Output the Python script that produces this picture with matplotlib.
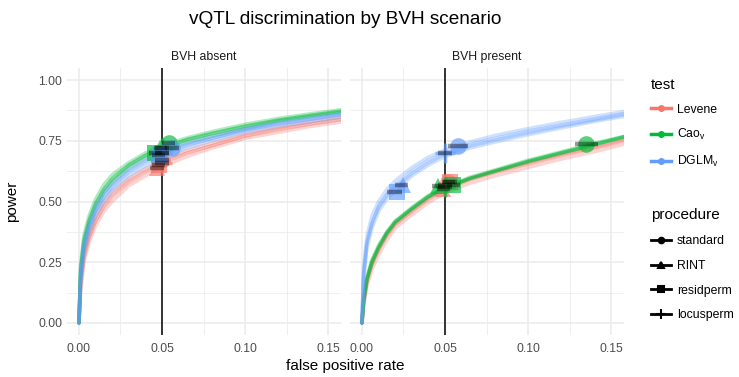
import matplotlib
matplotlib.use("Agg")
import matplotlib.pyplot as plt
from matplotlib.lines import Line2D

plt.rcParams['font.family'] = ['Liberation Sans', 'DejaVu Sans']
plt.rcParams['mathtext.default'] = 'regular'

# ---- data ----
panels = ['BVH absent', 'BVH present']
tests = ['Levene', 'Cao', 'DGLM']
test_labels = ['Levene', 'Cao$_v$', 'DGLM$_v$']
procedures = ['standard', 'RINT', 'residperm', 'locusperm']
colors = ['#F8766D', '#00BA38', '#619CFF']
shapes = ['o', '^', 's', '+']

fpr_grid = [0, 0.001, 0.003, 0.006, 0.01, 0.015, 0.02, 0.03, 0.04, 0.05,
            0.065, 0.08, 0.10, 0.12, 0.14, 0.16]

# power curves, one row per procedure (standard, RINT, residperm, locusperm)
absent_levene = [
    [0, 0.15, 0.27, 0.35, 0.42, 0.48, 0.52, 0.58, 0.62, 0.66, 0.70, 0.73, 0.77, 0.795, 0.82, 0.84],
    [0, 0.13, 0.25, 0.33, 0.40, 0.46, 0.50, 0.565, 0.605, 0.645, 0.685, 0.72, 0.76, 0.785, 0.81, 0.83],
    [0, 0.17, 0.29, 0.37, 0.44, 0.50, 0.54, 0.595, 0.635, 0.67, 0.71, 0.74, 0.78, 0.805, 0.83, 0.85],
    [0, 0.15, 0.27, 0.35, 0.42, 0.48, 0.525, 0.585, 0.625, 0.66, 0.70, 0.73, 0.77, 0.80, 0.82, 0.84],
]
absent_cao = [
    [0, 0.22, 0.34, 0.42, 0.49, 0.55, 0.59, 0.65, 0.69, 0.72, 0.755, 0.78, 0.81, 0.835, 0.855, 0.875],
    [0, 0.20, 0.32, 0.40, 0.47, 0.535, 0.58, 0.64, 0.68, 0.71, 0.745, 0.77, 0.80, 0.83, 0.85, 0.868],
    [0, 0.24, 0.36, 0.44, 0.51, 0.57, 0.61, 0.66, 0.70, 0.73, 0.762, 0.788, 0.818, 0.842, 0.862, 0.88],
    [0, 0.22, 0.34, 0.42, 0.49, 0.55, 0.595, 0.65, 0.69, 0.72, 0.755, 0.78, 0.81, 0.835, 0.855, 0.873],
]
absent_dglm = [
    [0, 0.19, 0.31, 0.39, 0.46, 0.52, 0.56, 0.62, 0.66, 0.69, 0.73, 0.76, 0.795, 0.82, 0.84, 0.86],
    [0, 0.17, 0.29, 0.37, 0.44, 0.50, 0.545, 0.605, 0.645, 0.68, 0.72, 0.75, 0.785, 0.81, 0.83, 0.85],
    [0, 0.21, 0.33, 0.41, 0.48, 0.54, 0.575, 0.635, 0.675, 0.705, 0.74, 0.768, 0.80, 0.825, 0.845, 0.865],
    [0, 0.19, 0.31, 0.39, 0.46, 0.52, 0.565, 0.625, 0.665, 0.695, 0.735, 0.76, 0.795, 0.82, 0.84, 0.86],
]
present_levene = [
    [0, 0.08, 0.17, 0.24, 0.30, 0.36, 0.405, 0.46, 0.51, 0.55, 0.59, 0.62, 0.655, 0.69, 0.72, 0.755],
    [0, 0.07, 0.15, 0.22, 0.28, 0.34, 0.39, 0.445, 0.495, 0.535, 0.575, 0.605, 0.64, 0.675, 0.705, 0.74],
    [0, 0.09, 0.18, 0.25, 0.31, 0.37, 0.41, 0.465, 0.515, 0.555, 0.595, 0.625, 0.66, 0.695, 0.725, 0.76],
    [0, 0.08, 0.17, 0.24, 0.30, 0.36, 0.405, 0.46, 0.51, 0.55, 0.59, 0.62, 0.655, 0.69, 0.72, 0.755],
]
present_cao = [
    [0, 0.09, 0.18, 0.25, 0.31, 0.37, 0.415, 0.47, 0.52, 0.555, 0.595, 0.625, 0.665, 0.70, 0.735, 0.77],
    [0, 0.09, 0.18, 0.25, 0.31, 0.37, 0.415, 0.47, 0.52, 0.555, 0.595, 0.625, 0.665, 0.70, 0.735, 0.77],
    [0, 0.10, 0.19, 0.26, 0.32, 0.375, 0.42, 0.475, 0.525, 0.56, 0.60, 0.63, 0.67, 0.705, 0.74, 0.772],
    [0, 0.09, 0.18, 0.25, 0.31, 0.37, 0.415, 0.47, 0.52, 0.555, 0.595, 0.625, 0.665, 0.70, 0.735, 0.77],
]
present_dglm = [
    [0, 0.20, 0.33, 0.41, 0.48, 0.53, 0.565, 0.625, 0.67, 0.70, 0.735, 0.76, 0.79, 0.815, 0.84, 0.865],
    [0, 0.23, 0.36, 0.44, 0.50, 0.55, 0.585, 0.64, 0.683, 0.712, 0.745, 0.772, 0.80, 0.826, 0.85, 0.873],
    [0, 0.18, 0.31, 0.39, 0.46, 0.51, 0.545, 0.605, 0.65, 0.685, 0.72, 0.745, 0.775, 0.803, 0.83, 0.853],
    [0, 0.20, 0.33, 0.41, 0.475, 0.525, 0.56, 0.615, 0.66, 0.695, 0.728, 0.753, 0.783, 0.81, 0.835, 0.86],
]

# operating points at nominal alpha = 0.05 (order: Levene x4, Cao x4, DGLM x4)
absent_pt_fpr = [0.050, 0.047, 0.048, 0.050, 0.054, 0.049, 0.046, 0.050, 0.056, 0.050, 0.048, 0.050]
absent_pt_pow = [0.670, 0.640, 0.650, 0.660, 0.740, 0.720, 0.700, 0.720, 0.720, 0.700, 0.690, 0.700]
absent_pt_lo = [0.046, 0.043, 0.044, 0.046, 0.050, 0.045, 0.042, 0.046, 0.052, 0.046, 0.044, 0.046]
absent_pt_hi = [0.054, 0.051, 0.052, 0.054, 0.058, 0.053, 0.050, 0.054, 0.060, 0.054, 0.052, 0.054]

present_pt_fpr = [0.052, 0.049, 0.053, 0.050, 0.135, 0.046, 0.055, 0.050, 0.058, 0.025, 0.021, 0.050]
present_pt_pow = [0.580, 0.550, 0.580, 0.570, 0.735, 0.565, 0.570, 0.560, 0.730, 0.570, 0.540, 0.700]
present_pt_lo = [0.048, 0.045, 0.049, 0.046, 0.128, 0.042, 0.051, 0.046, 0.052, 0.020, 0.015, 0.046]
present_pt_hi = [0.056, 0.053, 0.057, 0.054, 0.142, 0.050, 0.059, 0.054, 0.064, 0.028, 0.024, 0.054]

curves = [[absent_levene, absent_cao, absent_dglm],
          [present_levene, present_cao, present_dglm]]
points = [(absent_pt_fpr, absent_pt_pow, absent_pt_lo, absent_pt_hi),
          (present_pt_fpr, present_pt_pow, present_pt_lo, present_pt_hi)]

# ---- figure ----
fig = plt.figure(figsize=(7.39, 3.77), dpi=100)
W, H = 739, 377
grid_col = '#EBEBEB'

for p, name in enumerate(panels):
    left = 66.5 if p == 0 else 349.5
    ax = fig.add_axes([left / W, 1 - 335 / H, 274 / W, 267 / H])
    ax.set_xlim(-0.0075, 0.1575)
    ax.set_ylim(-0.05, 1.05)
    for s in ax.spines.values():
        s.set_visible(False)
    ax.set_xticks([0, 0.05, 0.10, 0.15])
    ax.set_xticks([0.025, 0.075, 0.125], minor=True)
    ax.set_yticks([0, 0.25, 0.5, 0.75, 1.0])
    ax.set_yticks([0.125, 0.375, 0.625, 0.875], minor=True)
    ax.grid(True, which='major', color=grid_col, lw=1.1)
    ax.grid(True, which='minor', color=grid_col, lw=0.55)
    ax.set_axisbelow(True)
    ax.tick_params(which='both', length=0, labelsize=8.8, labelcolor='#4D4D4D', pad=3)
    ax.tick_params(axis='x', pad=6)
    ax.set_xticklabels(['0.00', '0.05', '0.10', '0.15'])
    if p == 0:
        ax.set_yticklabels(['0.00', '0.25', '0.50', '0.75', '1.00'])
    else:
        ax.set_yticklabels([])
    ax.set_title(name, fontsize=8.8, color='#1A1A1A', pad=6)

    for t in range(3):
        for k in range(4):
            ax.plot(fpr_grid, curves[p][t][k], color=colors[t], lw=2.6,
                    alpha=0.3, solid_capstyle='round', zorder=2)

    ax.axvline(0.05, color='black', lw=1.1, zorder=3)

    fx, fy, lo, hi = points[p]
    for i in range(12):
        t, k = i // 4, i % 4
        mk = shapes[k]
        ax.plot(fx[i], fy[i], marker=mk, ls='none', color=colors[t],
                ms=12 if mk != '+' else 15, mew=2.5 if mk == '+' else 0,
                alpha=0.65, zorder=4)
    for i in range(12):
        ax.plot([lo[i], hi[i]], [fy[i], fy[i]], color='black', lw=3.2,
                alpha=0.4, solid_capstyle='butt', zorder=5)

fig.text(345 / W, 1 - 366 / H, 'false positive rate', ha='center', va='center', fontsize=11)
fig.text(12 / W, 1 - 201 / H, 'power', ha='center', va='center', rotation=90, fontsize=11)
fig.text(345 / W, 1 - 20 / H, 'vQTL discrimination by BVH scenario', ha='center',
         va='center', fontsize=13.7)

test_handles = [Line2D([], [], color=c, lw=2.5, marker='o', ms=4) for c in colors]
leg1 = fig.legend(test_handles, test_labels, title='test', loc='upper left',
                  bbox_to_anchor=(645 / W, 1 - 72 / H), frameon=False, fontsize=8.8,
                  title_fontsize=11, handlelength=1.6, handletextpad=0.5,
                  labelspacing=0.95, borderpad=0)
leg1._legend_box.align = 'left'
proc_handles = [Line2D([], [], color='black', lw=2.0, marker=m, ms=4 if m != '+' else 7,
                       mew=1.5) for m in shapes]
leg2 = fig.legend(proc_handles, procedures, title='procedure', loc='upper left',
                  bbox_to_anchor=(645 / W, 1 - 202 / H), frameon=False, fontsize=8.8,
                  title_fontsize=11, handlelength=1.6, handletextpad=0.5,
                  labelspacing=1.05, borderpad=0)
leg2._legend_box.align = 'left'

fig.savefig('out.png', dpi=100)
